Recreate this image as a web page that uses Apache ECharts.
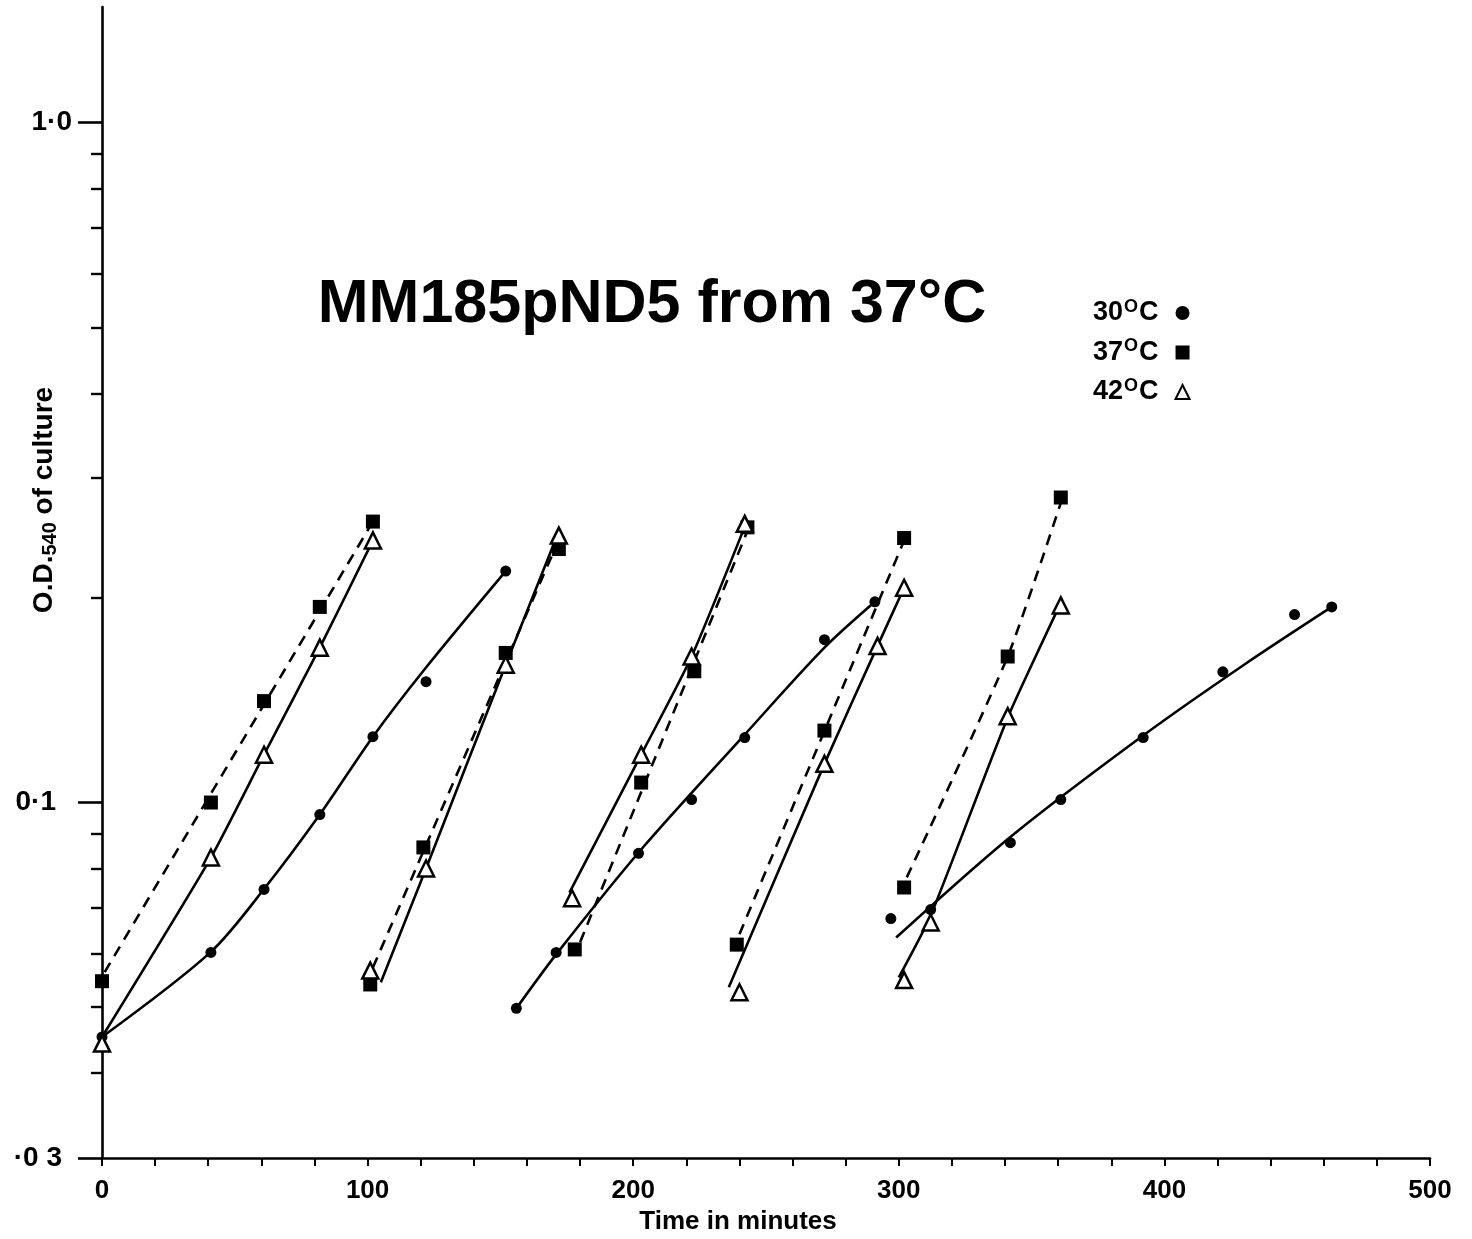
<!DOCTYPE html>
<html>
<head>
<meta charset="utf-8">
<title>MM185pND5 from 37°C</title>
<script src="https://cdn.jsdelivr.net/npm/echarts@6/dist/echarts.min.js"></script>
<style>
  * { margin: 0; padding: 0; }
  body { background: #fff; }
  #main { width: 1472px; height: 1239px; }
</style>
</head>
<body>
<div id="main"></div>
<script>
// measured points  [time in min, O.D.540]
let pts30 = [
  [0, 0.0452], [41, 0.0602], [61, 0.0745], [82, 0.096], [102, 0.125], [122, 0.1506], [152, 0.219],
  [156, 0.0498], [171, 0.0602], [202, 0.0842], [222, 0.101], [242, 0.1246], [272, 0.1736], [291, 0.1974],
  [297, 0.0675], [312, 0.0696], [342, 0.0873], [361, 0.101], [392, 0.1246], [422, 0.1557], [449, 0.189], [463, 0.194]
];
let pts37 = [
  [0, 0.0546], [41, 0.100], [61, 0.141], [82, 0.194], [102, 0.259],
  [101, 0.054], [121, 0.0859], [152, 0.166], [172, 0.236],
  [178, 0.0608], [203, 0.107], [223, 0.156], [243, 0.254],
  [239, 0.0618], [272, 0.1276], [302, 0.245],
  [302, 0.075], [341, 0.164], [361, 0.281]
];
let pts42 = [
  [0, 0.0442], [41, 0.083], [61, 0.1176], [82, 0.169], [102, 0.243],
  [101, 0.0566], [122, 0.080], [152, 0.1595], [172, 0.247],
  [177, 0.0723], [203, 0.1176], [222, 0.164], [242, 0.257],
  [240, 0.0526], [272, 0.114], [292, 0.170], [302, 0.207],
  [302, 0.0548], [312, 0.0666], [341, 0.134], [361, 0.195]
];

// hand drawn fitted lines
let fit30 = [
  [[0, 0.0452], [41, 0.0603], [61, 0.0746], [82, 0.096], [102, 0.125], [122, 0.158], [152, 0.219]],
  [[156, 0.0498], [171, 0.0598], [203, 0.0853], [242, 0.1259], [272, 0.169], [291, 0.1974]],
  [[299, 0.0633], [342, 0.089], [392, 0.1255], [430, 0.1595], [463, 0.194]]
];
let fit37 = [
  [[1, 0.0563], [102, 0.259]],
  [[102, 0.0572], [171, 0.2386]],
  [[180, 0.0623], [243, 0.251]],
  [[240, 0.064], [302, 0.243]],
  [[303, 0.0776], [341, 0.164], [361, 0.276]]
];
let fit42 = [
  [[0, 0.0452], [41, 0.083], [61, 0.1176], [82, 0.169], [102, 0.243]],
  [[105, 0.0544], [122, 0.080], [152, 0.1595], [171, 0.245]],
  [[176, 0.0737], [203, 0.1176], [222, 0.164], [243, 0.2605]],
  [[236, 0.0535], [272, 0.114], [292, 0.170], [302, 0.207]],
  [[300, 0.0553], [312, 0.0682], [341, 0.1333], [361, 0.1967]]
];

let yTickVals = [0.03, 0.1, 1];
let yTickLabels = ['·0 3', '0·1', '1·0'];
let yMinorVals = [0.04, 0.05, 0.06, 0.07, 0.08, 0.09, 0.2, 0.3, 0.4, 0.5, 0.6, 0.7, 0.8, 0.9];
let xLabelVals = [0, 100, 200, 300, 400, 500];

let FONT = '"Liberation Sans", Arial, sans-serif';
let myChart = echarts.init(document.getElementById('main'));

function fitSeries(list, dashed, smooth) {
  return list.map(function (seg) {
    return {
      type: 'line',
      data: seg,
      smooth: smooth,
      symbol: 'none',
      silent: true,
      z: 2,
      lineStyle: { color: '#000', width: 2.6, type: dashed ? [11, 8] : 'solid' }
    };
  });
}

let series = [].concat(
  fitSeries(fit30, false, 0.3),
  fitSeries(fit37, true, 0.2),
  fitSeries(fit42, false, 0.2),
  [{
    name: '30°C', type: 'scatter', data: pts30, z: 5,
    symbol: 'circle', symbolSize: 11,
    itemStyle: { color: '#000', opacity: 1 }
  }, {
    name: '37°C', type: 'scatter', data: pts37, z: 5,
    symbol: 'rect', symbolSize: 14,
    itemStyle: { color: '#000', opacity: 1 }
  }, {
    name: '42°C', type: 'scatter', data: pts42, z: 6,
    symbol: 'triangle', symbolSize: 16,
    itemStyle: { color: '#fff', borderColor: '#000', borderWidth: 2.5, opacity: 1 }
  }]
);

let option = {
  backgroundColor: '#fff',
  animation: false,
  title: {
    text: 'MM185pND5 from 37°C',
    left: 647,
    top: 270,
    textAlign: 'center',
    textStyle: { fontFamily: FONT, fontWeight: 'bold', fontSize: 61, color: '#000' }
  },
  legend: {
    data: ['30°C', '37°C', '42°C'],
    orient: 'vertical',
    left: 1088,
    top: 293,
    align: 'right',
    itemWidth: 14,
    itemHeight: 14,
    itemGap: 11,
    formatter: function (name) {
      return '{n|' + name.slice(0, 2) + '}{s|O}{c|C}';
    },
    textStyle: {
      rich: {
        n: { fontFamily: FONT, fontWeight: 'bold', fontSize: 27, color: '#000', lineHeight: 30 },
        c: { fontFamily: FONT, fontWeight: 'bold', fontSize: 27, color: '#000', lineHeight: 30, padding: [0, 12, 0, 0] },
        s: { fontFamily: FONT, fontWeight: 'bold', fontSize: 18, color: '#000', verticalAlign: 'top', lineHeight: 30, padding: [0, 1, 0, 1] }
      }
    }
  },
  grid: { left: 102, right: 42, top: 7, bottom: 81, containLabel: false, outerBoundsMode: 'none' },
  xAxis: {
    type: 'value',
    min: 0,
    max: 500,
    interval: 20,
    axisLine: { lineStyle: { color: '#000', width: 2.6 } },
    axisTick: { length: 8, lineStyle: { color: '#000', width: 2 } },
    splitLine: { show: false },
    axisLabel: {
      margin: 20,
      color: '#000',
      fontFamily: FONT,
      fontWeight: 'bold',
      fontSize: 26,
      customValues: xLabelVals
    }
  },
  yAxis: [{
    type: 'log',
    logBase: 10,
    position: 'left',
    min: 0.03,
    max: 1.48,
    axisLine: { lineStyle: { color: '#000', width: 2.6 } },
    axisTick: { customValues: yTickVals, length: 24, lineStyle: { color: '#000', width: 2.6 } },
    splitLine: { show: false },
    axisLabel: {
      customValues: yTickVals,
      margin: 30,
      formatter: function (v) {
        for (let i = 0; i < yTickVals.length; i++) {
          if (Math.abs(v - yTickVals[i]) < 1e-6) return '{l' + i + '|' + yTickLabels[i] + '}';
        }
        return '';
      },
      rich: {
        l0: { color: '#000', fontFamily: FONT, fontWeight: 'bold', fontSize: 28, padding: [0, 10, 0, 0] },
        l1: { color: '#000', fontFamily: FONT, fontWeight: 'bold', fontSize: 28, padding: [0, 16, 0, 0] },
        l2: { color: '#000', fontFamily: FONT, fontWeight: 'bold', fontSize: 28, padding: [0, 0, 0, 0] }
      }
    }
  }, {
    type: 'log',
    logBase: 10,
    position: 'left',
    offset: 0,
    min: 0.03,
    max: 1.48,
    axisLine: { show: false },
    axisTick: { customValues: yMinorVals, length: 11, lineStyle: { color: '#000', width: 2.4 } },
    splitLine: { show: false },
    axisLabel: { show: false }
  }],
  graphic: [{
    type: 'text',
    x: 738,
    y: 1222,
    style: {
      text: 'Time in minutes',
      fill: '#000',
      font: 'bold 26px ' + FONT,
      align: 'center',
      verticalAlign: 'middle'
    }
  }, {
    type: 'text',
    x: 44,
    y: 500,
    rotation: Math.PI / 2,
    style: {
      text: '{a|O.D.}{b|540}{a| of culture}',
      align: 'center',
      verticalAlign: 'middle',
      rich: {
        a: { fill: '#000', font: 'bold 28px ' + FONT, lineHeight: 32, verticalAlign: 'middle' },
        b: { fill: '#000', font: 'bold 20px ' + FONT, lineHeight: 32, verticalAlign: 'bottom' }
      }
    }
  }],
  series: series
};

myChart.setOption(option);
</script>
</body>
</html>
